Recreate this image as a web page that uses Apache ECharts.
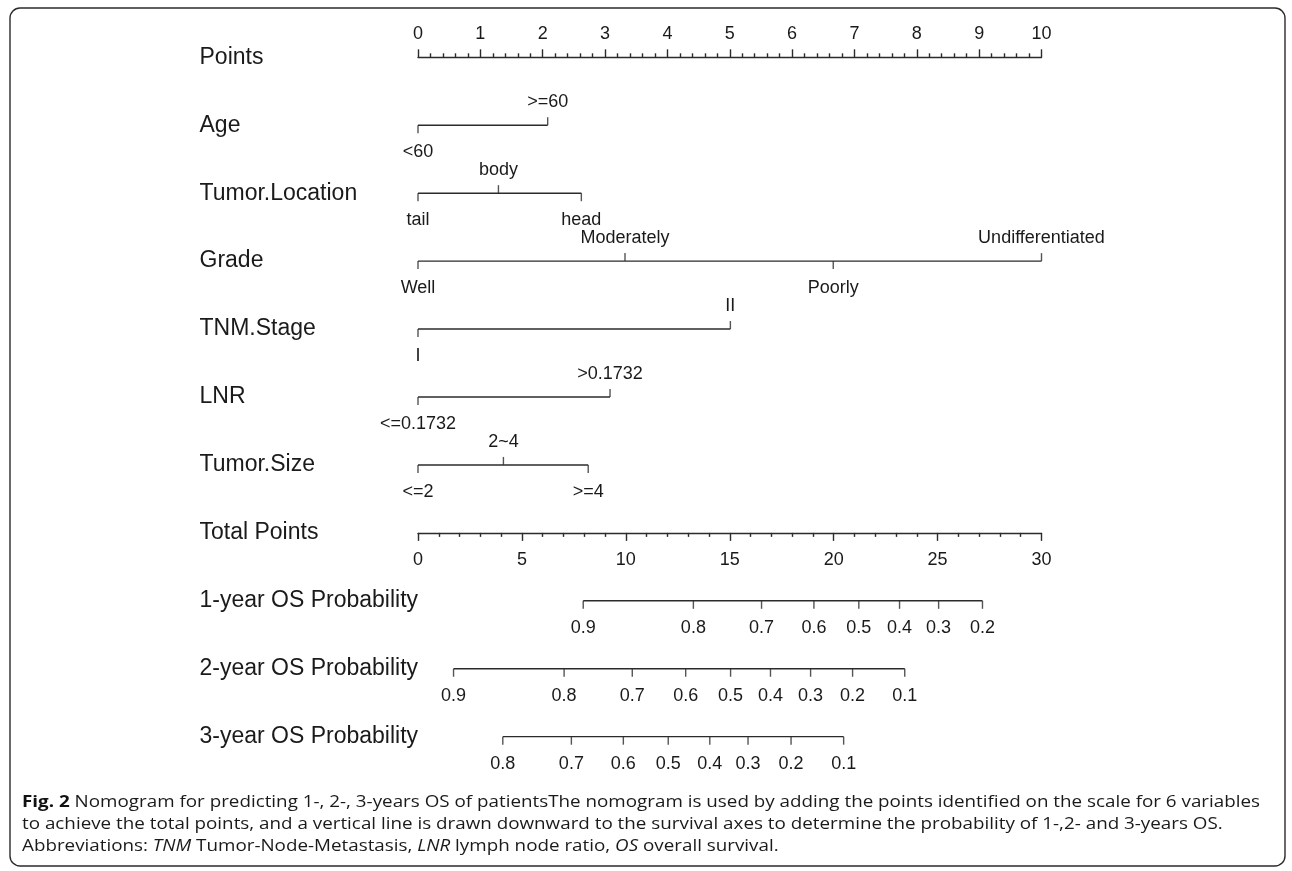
<!DOCTYPE html>
<html>
<head>
<meta charset="utf-8">
<script src="https://cdn.jsdelivr.net/npm/echarts@6/dist/echarts.min.js"></script>
<style>
html, body { margin: 0; padding: 0; background: #ffffff; }
#chart { width: 1292px; height: 871px; }
</style>
</head>
<body>
<div id="chart"></div>
<script>
// ---------- data ----------
const rowNames = ['Points', 'Age', 'Tumor.Location', 'Grade', 'TNM.Stage', 'LNR', 'Tumor.Size',
  'Total Points', '1-year OS Probability', '2-year OS Probability', '3-year OS Probability'];

const ageLevels = ['<60', '>=60'];
const agePoints = [0, 2.08];
const locationLevels = ['tail', 'body', 'head'];
const locationPoints = [0, 1.29, 2.62];
const gradeLevels = ['Well', 'Moderately', 'Poorly', 'Undifferentiated'];
const gradePoints = [0, 3.32, 6.66, 10];
const tnmLevels = ['I', 'II'];
const tnmPoints = [0, 5.01];
const lnrLevels = ['<=0.1732', '>0.1732'];
const lnrPoints = [0, 3.08];
const sizeLevels = ['<=2', '2~4', '>=4'];
const sizePoints = [0, 1.37, 2.73];

const os1Labels = ['0.9', '0.8', '0.7', '0.6', '0.5', '0.4', '0.3', '0.2'];
const os1Total = [7.95, 13.25, 16.53, 19.05, 21.21, 23.17, 25.05, 27.16];
const os2Labels = ['0.9', '0.8', '0.7', '0.6', '0.5', '0.4', '0.3', '0.2', '0.1'];
const os2Total = [1.71, 7.03, 10.31, 12.88, 15.04, 16.96, 18.89, 20.91, 23.42];
const os3Labels = ['0.8', '0.7', '0.6', '0.5', '0.4', '0.3', '0.2', '0.1'];
const os3Total = [4.08, 7.38, 9.88, 12.04, 14.04, 15.88, 17.95, 20.48];

const pointsMin = 0, pointsMax = 10, pointsStep = 1;
const totalMin = 0, totalMax = 30, totalStep = 5;

const captionLine1Bold = 'Fig. 2';
const captionLine1 = ' Nomogram for predicting 1-, 2-, 3-years OS of patientsThe nomogram is used by adding the points identified on the scale for 6 variables';
const captionLine2 = 'to achieve the total points, and a vertical line is drawn downward to the survival axes to determine the probability of 1-,2- and 3-years OS.';

// ---------- style / layout ----------
const INK = '#2b2b2b';
const TEXT = '#1a1a1a';
const FONT = '"Liberation Sans", Arial, sans-serif';
const CAP_FONT = '"Open Sans", sans-serif';
const LW = 1.4;
const TICK = 8;
const GRID_LEFT = 418, GRID_RIGHT = 1292 - 1041.5, GRID_TOP = 57.3, GRID_BOTTOM = 871 - 736.7;
const ROW_STEP = (871 - GRID_TOP - GRID_BOTTOM) / (rowNames.length - 1);

const series = [];
function addRow(rowIdx, names, xs, axisIdx, alternate) {
  series.push({
    type: 'line', xAxisIndex: axisIdx, yAxisIndex: 0, silent: true,
    symbol: 'none', lineStyle: { color: INK, width: LW },
    data: [[xs[0], rowIdx], [xs[xs.length - 1], rowIdx]]
  });
  series.push({
    type: 'scatter', xAxisIndex: axisIdx, yAxisIndex: 0, silent: true,
    symbol: 'rect', symbolSize: [LW, TICK], itemStyle: { color: INK },
    data: xs.map((x, i) => {
      const up = alternate && i % 2 === 1;
      return { value: [x, rowIdx], symbolOffset: [0, up ? -TICK / 2 : TICK / 2] };
    })
  });
  series.push({
    type: 'scatter', xAxisIndex: axisIdx, yAxisIndex: 0, silent: true,
    symbol: 'circle', symbolSize: 1, itemStyle: { color: 'rgba(0,0,0,0)' },
    label: { show: true, position: 'inside', formatter: '{b}', fontSize: 18, color: TEXT, fontFamily: FONT,
      textBorderWidth: 0, opacity: 1 },
    data: names.map((n, i) => {
      const up = alternate && i % 2 === 1;
      return { name: n, value: [xs[i], rowIdx], label: { offset: [0, up ? -23 : 27] } };
    })
  });
}

addRow(1, ageLevels, agePoints, 0, true);
addRow(2, locationLevels, locationPoints, 0, true);
addRow(3, gradeLevels, gradePoints, 0, true);
addRow(4, tnmLevels, tnmPoints, 0, true);
addRow(5, lnrLevels, lnrPoints, 0, true);
addRow(6, sizeLevels, sizePoints, 0, true);
addRow(8, os1Labels, os1Total, 1, false);
addRow(9, os2Labels, os2Total, 1, false);
addRow(10, os3Labels, os3Total, 1, false);

// caption scale to match reference line width
const ctx = document.createElement('canvas').getContext('2d');
function measure(t, weight, size) {
  ctx.font = (weight || 'normal') + ' ' + size + 'px ' + CAP_FONT;
  return ctx.measureText(t).width;
}
const CAP_SIZE = 16.5;
const capW = measure(captionLine1Bold, 'bold', CAP_SIZE) + measure(captionLine1, 'normal', CAP_SIZE);
const capScale = (1260 - 22) / capW;

const axisCommon = {
  type: 'value', gridIndex: 0,
  splitLine: { show: false }, minorSplitLine: { show: false },
  axisLine: { show: true, onZero: false, lineStyle: { color: INK, width: LW } },
  axisTick: { show: true, length: TICK, lineStyle: { color: INK, width: LW } },
  minorTick: { show: true, splitNumber: 5, length: 4, lineStyle: { color: INK, width: LW } }
};

const option = {
  animation: false,
  backgroundColor: '#ffffff',
  grid: [{ left: GRID_LEFT, right: GRID_RIGHT, top: GRID_TOP, bottom: GRID_BOTTOM, outerBoundsMode: 'none' }],
  xAxis: [
    Object.assign({}, axisCommon, {
      min: pointsMin, max: pointsMax, interval: pointsStep, position: 'top',
      axisLabel: { fontSize: 18, color: TEXT, fontFamily: FONT, margin: 14 }
    }),
    Object.assign({}, axisCommon, {
      min: totalMin, max: totalMax, interval: totalStep, position: 'bottom',
      offset: -3 * ROW_STEP,
      axisLabel: { fontSize: 18, color: TEXT, fontFamily: FONT, margin: 18 }
    })
  ],
  yAxis: [{
    type: 'category', gridIndex: 0, data: rowNames, inverse: true, boundaryGap: false,
    axisLine: { show: false }, axisTick: { show: false }, splitLine: { show: false },
    axisLabel: { interval: 0, align: 'left', margin: GRID_LEFT - 199.5, fontSize: 23, color: TEXT, fontFamily: FONT }
  }],
  series: series,
  graphic: [
    {
      type: 'rect', silent: true,
      shape: { x: 10, y: 8, width: 1275, height: 858, r: 10 },
      style: { fill: 'none', stroke: INK, lineWidth: LW }
    },
    {
      type: 'text', x: 22, y: 802, scaleX: capScale, silent: true,
      style: {
        text: '{b|' + captionLine1Bold + '}' + captionLine1,
        font: CAP_SIZE + 'px ' + CAP_FONT, fill: TEXT, verticalAlign: 'middle',
        rich: { b: { fontWeight: 'bold', fontSize: CAP_SIZE, fontFamily: CAP_FONT, fill: '#111' } }
      }
    },
    {
      type: 'text', x: 22, y: 824, scaleX: capScale, silent: true,
      style: { text: captionLine2, font: CAP_SIZE + 'px ' + CAP_FONT, fill: TEXT, verticalAlign: 'middle' }
    },
    {
      type: 'text', x: 22, y: 846, scaleX: capScale, silent: true,
      style: {
        text: 'Abbreviations: {i|TNM} Tumor-Node-Metastasis, {i|LNR} lymph node ratio, {i|OS} overall survival.',
        font: CAP_SIZE + 'px ' + CAP_FONT, fill: TEXT, verticalAlign: 'middle',
        rich: { i: { fontStyle: 'italic', fontSize: CAP_SIZE, fontFamily: CAP_FONT, fill: TEXT } }
      }
    }
  ]
};

const chart = echarts.init(document.getElementById('chart'), null, { renderer: 'canvas' });
chart.setOption(option);
</script>
</body>
</html>
